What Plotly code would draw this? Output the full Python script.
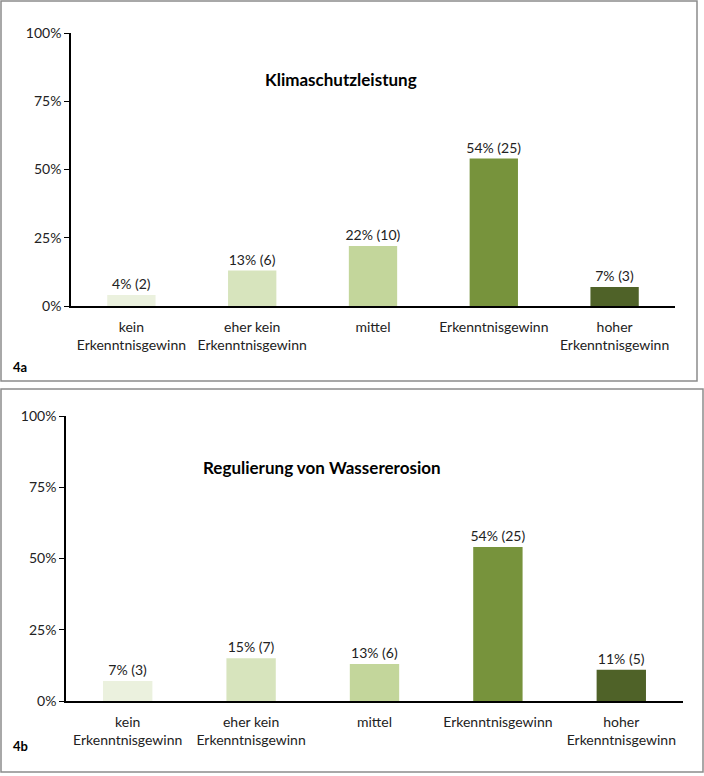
import plotly.graph_objects as go

categories = ["kein<br>Erkenntnisgewinn", "eher kein<br>Erkenntnisgewinn", "mittel",
              "Erkenntnisgewinn", "hoher<br>Erkenntnisgewinn"]
pct_a = [4, 13, 22, 54, 7]
cnt_a = [2, 6, 10, 25, 3]
pct_b = [7, 15, 13, 54, 11]
cnt_b = [3, 7, 6, 25, 5]
colors = ["#EBF1DE", "#D7E4BD", "#C3D69B", "#77933C", "#4F6228"]
title_a = "Klimaschutzleistung"
title_b = "Regulierung von Wassererosion"
y_ticks = [0, 25, 50, 75, 100]

W, H = 704, 776
FONT = "Lato"
TXT = "#222222"

def py(p):
    return (H - p) / H

def px(p):
    return p / W

fig = go.Figure()
fig.add_trace(go.Bar(x=categories, y=pct_a, marker=dict(color=colors, line=dict(width=0)),
                     text=[f"{p}% ({c})" for p, c in zip(pct_a, cnt_a)],
                     textposition="outside", cliponaxis=False, constraintext="none",
                     textfont=dict(family=FONT, size=14, color=TXT),
                     width=0.4, xaxis="x", yaxis="y", showlegend=False, hoverinfo="skip"))
fig.add_trace(go.Bar(x=categories, y=pct_b, marker=dict(color=colors, line=dict(width=0)),
                     text=[f"{p}% ({c})" for p, c in zip(pct_b, cnt_b)],
                     textposition="outside", cliponaxis=False, constraintext="none",
                     textfont=dict(family=FONT, size=14, color=TXT),
                     width=0.4, xaxis="x2", yaxis="y2", showlegend=False, hoverinfo="skip"))

ax_common = dict(type="category", showgrid=False, zeroline=False, showline=True,
                 linecolor="#000000", linewidth=2, ticks="", automargin=False,
                 ticklabelstandoff=7,
                 tickfont=dict(family=FONT, size=14, color=TXT))
ay_common = dict(range=[0, 100], tickvals=y_ticks, ticktext=[f"{v}%" for v in y_ticks],
                 showgrid=False, zeroline=False, showline=True, linecolor="#000000",
                 linewidth=1.5, ticks="outside", ticklen=5, tickcolor="#000000",
                 automargin=False, tickfont=dict(family=FONT, size=14, color=TXT))

fig.update_layout(
    width=W, height=H, margin=dict(l=0, r=0, t=0, b=0, pad=0, autoexpand=False),
    paper_bgcolor="white", plot_bgcolor="white",
    xaxis=dict(domain=[px(71), px(675)], anchor="y", **ax_common),
    yaxis=dict(domain=[py(306), py(33)], anchor="x", **ay_common),
    xaxis2=dict(domain=[px(66), px(683)], anchor="y2", **ax_common),
    yaxis2=dict(domain=[py(701), py(416)], anchor="x2", **ay_common),
    shapes=[
        dict(type="rect", xref="paper", yref="paper", x0=px(1), x1=px(697), y0=py(381), y1=py(1),
             line=dict(color="#8c8c8c", width=1.5)),
        dict(type="rect", xref="paper", yref="paper", x0=px(1), x1=px(703), y0=py(772), y1=py(389),
             line=dict(color="#8c8c8c", width=1.5)),
    ],
    annotations=[
        dict(text=f"<b>{title_a}</b>", xref="paper", yref="paper", x=px(341), y=py(67),
             showarrow=False, font=dict(family=FONT, size=17, color="#000000")),
        dict(text=f"<b>{title_b}</b>", xref="paper", yref="paper", x=px(322), y=py(467),
             showarrow=False, font=dict(family=FONT, size=17, color="#000000")),
        dict(text="<b>4a</b>", xref="paper", yref="paper", x=px(11), y=py(367), xanchor="left",
             showarrow=False, font=dict(family=FONT, size=13, color="#000000")),
        dict(text="<b>4b</b>", xref="paper", yref="paper", x=px(11), y=py(756), xanchor="left",
             showarrow=False, font=dict(family=FONT, size=13, color="#000000")),
    ],
)

fig.write_html("out.html", config={"displayModeBar": False},
               post_script="document.body.style.margin='0';document.body.style.overflow='hidden';")
